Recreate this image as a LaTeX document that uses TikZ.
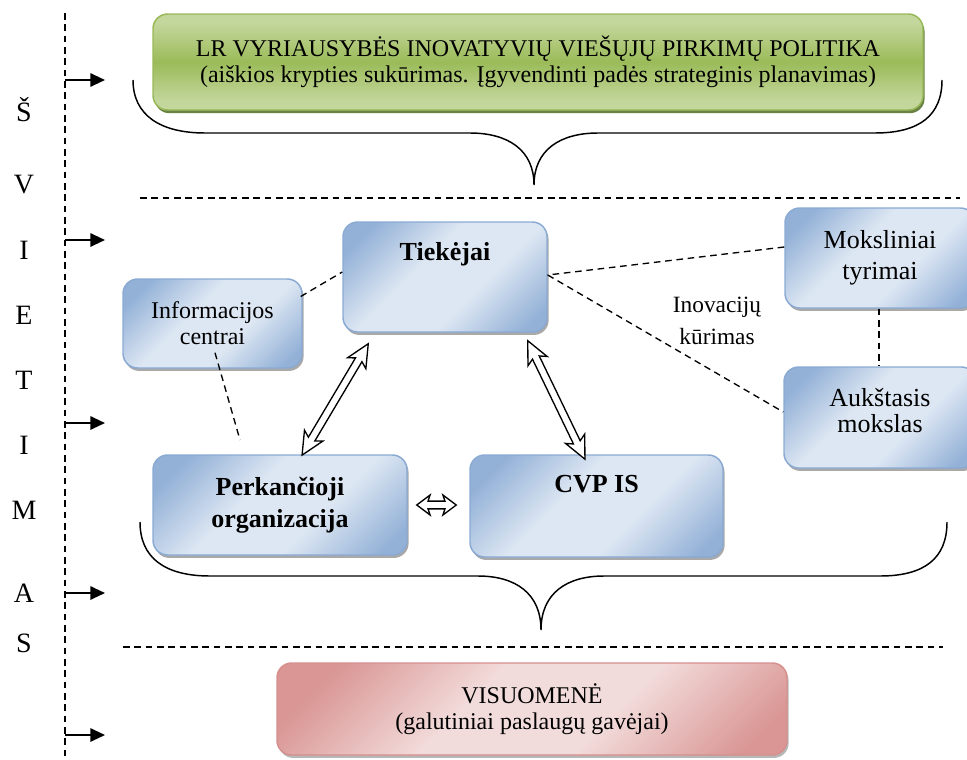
\documentclass[tikz,border=0pt]{standalone}
\usepackage{fontspec}
\setmainfont{Liberation Serif}
\usetikzlibrary{arrows.meta,calc,shadows}
\definecolor{bdark}{HTML}{93B1D7}
\definecolor{blight}{HTML}{DDE7F3}
\definecolor{bborder}{HTML}{8AAAD4}
\definecolor{gdark}{HTML}{9BBB59}
\definecolor{glight}{HTML}{C3D69B}
\definecolor{gborder}{HTML}{98B957}
\definecolor{gshadow}{HTML}{5A7530}
\definecolor{rdark}{HTML}{D99694}
\definecolor{rlight}{HTML}{F2DCDB}
\definecolor{rborder}{HTML}{D68F8D}
\pgfdeclarehorizontalshading{bluesh}{100bp}{color(0bp)=(bdark); color(22bp)=(bdark); color(42bp)=(blight); color(60bp)=(blight); color(80bp)=(bdark); color(100bp)=(bdark)}
\pgfdeclarehorizontalshading{redsh}{100bp}{color(0bp)=(rdark); color(22bp)=(rdark); color(42bp)=(rlight); color(60bp)=(rlight); color(80bp)=(rdark); color(100bp)=(rdark)}
\pgfdeclareverticalshading{greensh}{100bp}{color(0bp)=(glight); color(30bp)=(glight); color(50bp)=(gdark); color(70bp)=(glight); color(100bp)=(glight)}
\newcommand\szReg{\fontsize{18}{19.5}\selectfont}
\newcommand\szLetter{\fontsize{21}{24}\selectfont}
\newcommand\szBig{\fontsize{19.5}{23.5}\selectfont}
\newcommand\szBigB{\fontsize{19.5}{19.5}\selectfont}
\newcommand\szBold{\fontsize{19.5}{24}\selectfont\bfseries}
\newcommand\szNote{\fontsize{17.5}{24}\selectfont}
\newcommand\hollowpair[6]{%
  \path let \p1=(#1), \p2=(#2) in \pgfextra{%
    \pgfmathsetmacro\hpang{atan2(\y2-\y1,\x2-\x1)}%
    \pgfmathsetmacro\hplen{veclen(\x2-\x1,\y2-\y1)}%
    \xdef\hpangG{\hpang}\xdef\hplenG{\hplen}};
  \begin{scope}[shift={(#1)}, rotate=\hpangG]
    \draw[hollow] (0pt,0pt) -- (#3,#4) -- ({#3-#6},#5) -- ({\hplenG pt-#3+#6},#5)
      -- ({\hplenG pt-#3},#4) -- ({\hplenG pt},0pt) -- ({\hplenG pt-#3},-#4)
      -- ({\hplenG pt-#3+#6},-#5) -- ({#3-#6},-#5) -- (#3,-#4) -- cycle;
  \end{scope}}
\begin{document}
\begin{tikzpicture}[x=0.75pt,y=-0.75pt,
  boxbase/.style={rounded corners=11pt, line width=1.1pt, align=center, inner sep=0pt},
  bluebox/.style={boxbase, draw=bborder, shade, shading=bluesh, shading angle=-45,
    drop shadow={shadow xshift=1.2pt, shadow yshift=-2.2pt, fill=black!45, opacity=0.75}},
  greenbox/.style={boxbase, draw=gborder, shade, shading=greensh,
    drop shadow={shadow xshift=1.2pt, shadow yshift=-2.4pt, fill=gshadow, opacity=0.9}},
  redbox/.style={boxbase, draw=rborder, shade, shading=redsh, shading angle=-45,
    drop shadow={shadow xshift=1.2pt, shadow yshift=-2.2pt, fill=black!40, opacity=0.7}},
  conn/.style={draw, line width=1pt, dash pattern=on 5pt off 3.5pt},
  sepline/.style={draw, line width=1.1pt, dash pattern=on 5pt off 3.5pt},
  brace/.style={draw, line width=1.1pt},
  hollow/.style={draw, line width=1pt, fill=white, line join=miter},
  larrow/.style={draw, line width=1.5pt, -{Triangle[length=11pt,width=10pt]}},
  letter/.style={font=\szLetter, inner sep=0pt}]
\useasboundingbox (0,0) rectangle (967,760);

% braces
\draw[brace] (133,80) .. controls (133,115) and (160,133) .. (205,133) -- (470,133)
  .. controls (508,133) and (534,150) .. (534,185)
  .. controls (534,150) and (560,133) .. (598,133) -- (875,133)
  .. controls (920,133) and (942,115) .. (942,80);
\draw[brace] (140,522) .. controls (140,558) and (165,576) .. (210,576) -- (478,576)
  .. controls (515,576) and (541,593) .. (541,630)
  .. controls (541,593) and (567,576) .. (604,576) -- (880,576)
  .. controls (925,576) and (947,558) .. (947,522);

% separators
\coordinate (s1a) at (140,198); \coordinate (s1b) at (960,198);
\coordinate (s2a) at (123,647); \coordinate (s2b) at (943,647);
\draw[sepline] (s1a) -- (s1b);
\draw[sepline] (s2a) -- (s2b);

% left column
\coordinate (v1) at (65,13); \coordinate (v2) at (65,762);
\draw[sepline, line width=1pt] (v1) -- (v2);
\foreach \yy [count=\i] in {80,240,423,593,735}{
  \coordinate (la\i) at (65,\yy); \coordinate (lb\i) at (105,\yy);
  \draw[larrow] (la\i) -- (lb\i);
}
\node[letter] (L1) at (24,110) {Š};
\node[letter] (L2) at (24,185) {V};
\node[letter] (L3) at (24,250) {I};
\node[letter] (L4) at (24,315) {E};
\node[letter] (L5) at (24,380) {T};
\node[letter] (L6) at (24,445) {I};
\node[letter] (L7) at (24,510) {M};
\node[letter] (L8) at (24,593) {A};
\node[letter] (L9) at (24,643) {S};

% boxes
\node[greenbox, minimum width=577.5pt, minimum height=72pt, font=\szReg] (gov) at (538,62)
  {LR VYRIAUSYBĖS INOVATYVIŲ VIEŠŲJŲ PIRKIMŲ POLITIKA\\(aiškios krypties sukūrimas. Įgyvendinti padės strateginis planavimas)\\[-15pt]};
\node[bluebox, minimum width=153pt, minimum height=82.5pt, text height=28.5pt, text depth=54pt, font=\szBold] (tiek) at (445,277) {Tiekėjai};
\node[bluebox, minimum width=134.25pt, minimum height=66.75pt, font=\szReg] (info) at (212.5,323.5) {Informacijos\\centrai};
\node[bluebox, minimum width=142.5pt, minimum height=75pt, font=\szBig] (moksl) at (880,258) {Moksliniai\\tyrimai};
\node[bluebox, minimum width=144pt, minimum height=75.75pt, font=\szBigB] (aukst) at (880,417.5) {Aukštasis\\mokslas\\[-8.5pt]};
\node[bluebox, minimum width=190.5pt, minimum height=75pt, font=\szBold] (perk) at (280,505) {Perkančioji\\organizacija};
\node[bluebox, minimum width=189.75pt, minimum height=76.5pt, text height=27.75pt, text depth=48.75pt, font=\szBold] (cvp) at (596.5,506) {CVP IS};
\node[redbox, minimum width=382.5pt, minimum height=69pt, font=\szReg] (vis) at (532,709) {VISUOMENĖ\\(galutiniai paslaugų gavėjai)};

\node[font=\szNote, align=center, inner sep=0pt] (inov) at (717,321) {Inovacijų\\kūrimas};

% dashed connectors
\coordinate (ipe) at (240,440);
\draw[conn] ($(info.east)+(-2,-27)$) -- ($(tiek.west)+(0,-5)$);
\draw[conn] ($(info.south)+(2.5,-16)$) -- (ipe);
\draw[conn] ($(moksl.west)+(0,-11)$) -- ($(tiek.east)+(0,-2)$);
\draw[conn] ($(tiek.east)+(0,-2)$) -- ($(aukst.west)+(0,-5.5)$);
\draw[conn] ($(moksl.south)+(-1,0)$) -- ($(aukst.north)+(-1,0)$);

% hollow double arrows
\coordinate (a1) at ($(tiek.south west)+(26,11)$);
\coordinate (a2) at ($(perk.north)+(22,1)$);
\coordinate (b1) at ($(tiek.south east)+(-20,8)$);
\coordinate (b2) at ($(cvp.north)+(-11.5,5)$);
\coordinate (c1) at ($(perk.east)+(9,0)$);
\coordinate (c2) at ($(cvp.west)+(-13,-1)$);
\hollowpair{a1}{a2}{17pt}{8pt}{2.8pt}{3pt}
\hollowpair{b1}{b2}{17pt}{8pt}{2.8pt}{3pt}
\hollowpair{c1}{c2}{10pt}{7.5pt}{2.9pt}{1.5pt}
\end{tikzpicture}
\end{document}
